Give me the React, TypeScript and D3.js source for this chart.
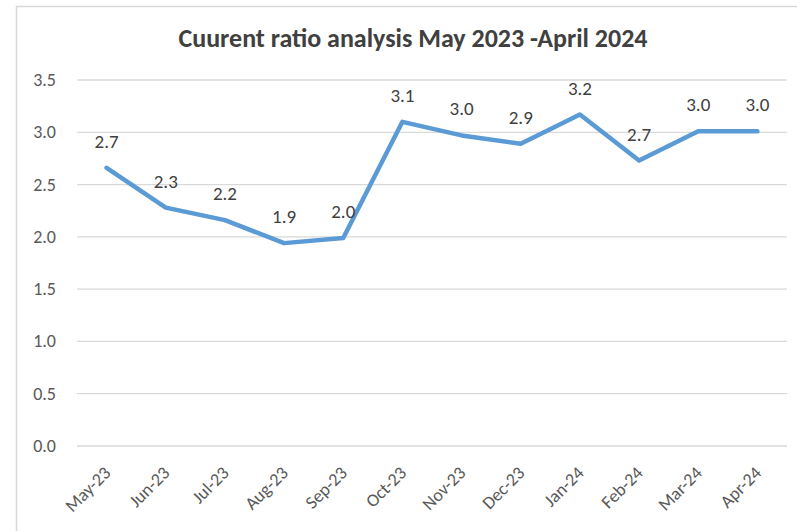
import React from "react";
import * as d3 from "d3";

const categories = ["May-23","Jun-23","Jul-23","Aug-23","Sep-23","Oct-23","Nov-23","Dec-23","Jan-24","Feb-24","Mar-24","Apr-24"];
const values = [2.66, 2.28, 2.16, 1.94, 1.99, 3.10, 2.97, 2.89, 3.17, 2.73, 3.01, 3.01];
const yTicks = [0, 0.5, 1.0, 1.5, 2.0, 2.5, 3.0, 3.5];
const title = "Cuurent ratio analysis May 2023 -April 2024";

export default function App() {
  const W = 797, H = 531;
  const left = 77, right = 787, top = 80, bottom = 446;
  const x = d3.scaleBand<string>().domain(categories).range([left, right]);
  const y = d3.scaleLinear().domain([0, 3.5]).range([bottom, top]);
  const cx = (c: string) => (x(c) as number) + x.bandwidth() / 2;
  const line = d3.line<number>().x((_, i) => cx(categories[i])).y(d => y(d));
  const font = "Carlito, Lato, 'Open Sans', sans-serif";
  return (
    <svg width={W} height={H} style={{ position: "absolute", left: 0, top: 0, background: "#fff" }} fontFamily={font}>
      <rect x={16.5} y={6.5} width={W + 10} height={H + 10} fill="#fff" stroke="#d9d9d9" strokeWidth={1.5} />
      <text x={413} y={47} textAnchor="middle" fontSize={26} fontWeight={700} fill="#404040">{title}</text>
      {yTicks.map(t => (
        <g key={t}>
          <line x1={left} x2={right} y1={y(t)} y2={y(t)} stroke="#d9d9d9" strokeWidth={1.3} />
          <text x={56} y={y(t) + 6} textAnchor="end" fontSize={18} fill="#595959">{t.toFixed(1)}</text>
        </g>
      ))}
      {categories.map(c => (
        <text key={c} transform={`translate(${cx(c) + 5},${bottom + 28}) rotate(-45)`} textAnchor="end" fontSize={18} fill="#595959">{c}</text>
      ))}
      <path d={line(values) || ""} fill="none" stroke="#5b9bd5" strokeWidth={4.5} strokeLinejoin="round" strokeLinecap="round" />
      {values.map((v, i) => (
        <text key={i} x={cx(categories[i])} y={y(v) - 20} textAnchor="middle" fontSize={19} fill="#404040">{v.toFixed(1)}</text>
      ))}
    </svg>
  );
}
